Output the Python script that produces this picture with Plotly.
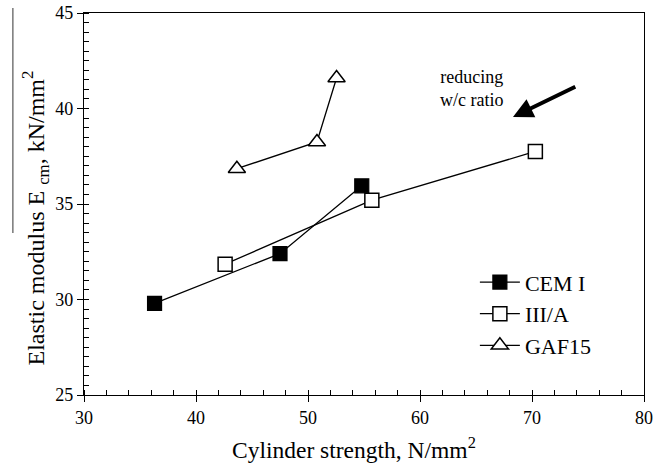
import plotly.graph_objects as go

# Data
cem_x = [36.3, 47.5, 54.8]
cem_y = [29.8, 32.4, 35.95]
iiia_x = [42.6, 55.7, 70.3]
iiia_y = [31.85, 35.2, 37.75]
gaf_x = [43.65, 50.8, 52.55]
gaf_y = [36.85, 38.25, 41.6]

series_names = ["CEM I", "III/A", "GAF15"]
x_ticks = [30, 40, 50, 60, 70, 80]
y_ticks = [25, 30, 35, 40, 45]

FONT = "Liberation Serif, Times New Roman, serif"

fig = go.Figure()
fig.add_trace(go.Scatter(
    x=cem_x, y=cem_y, name=series_names[0], mode="lines+markers",
    line=dict(color="black", width=1.3),
    marker=dict(symbol="square", size=14, color="black", line=dict(color="black", width=1.2))))
fig.add_trace(go.Scatter(
    x=iiia_x, y=iiia_y, name=series_names[1], mode="lines+markers",
    line=dict(color="black", width=1.3),
    marker=dict(symbol="square", size=14, color="white", line=dict(color="black", width=1.5))))
fig.add_trace(go.Scatter(
    x=gaf_x, y=gaf_y, name=series_names[2], mode="lines+markers",
    line=dict(color="black", width=1.3),
    marker=dict(symbol="triangle-up", size=15, color="white", line=dict(color="black", width=1.5))))

fig.update_layout(
    width=664, height=464,
    margin=dict(l=84, r=20, t=13, b=69, autoexpand=False),
    paper_bgcolor="white", plot_bgcolor="white",
    font=dict(family=FONT, color="black", size=18),
    showlegend=True,
    legend=dict(x=0.698, y=0.35, xanchor="left", yanchor="top",
                font=dict(family=FONT, size=22, color="black"),
                bgcolor="rgba(0,0,0,0)", itemwidth=40, tracegroupgap=0),
    xaxis=dict(range=[30, 80], tickvals=x_ticks, automargin=False,
               ticks="outside", ticklen=6, tickwidth=1.2, tickcolor="black",
               minor=dict(dtick=2, ticks="inside", ticklen=5, tickwidth=1, tickcolor="black"),
               showline=True, linecolor="black", linewidth=1.3, mirror=True,
               showgrid=False, zeroline=False, ticklabeloverflow="allow",
               tickfont=dict(family=FONT, size=18)),
    yaxis=dict(range=[25, 45], tickvals=y_ticks, automargin=False,
               ticks="outside", ticklen=6, tickwidth=1.2, tickcolor="black",
               minor=dict(dtick=0.5, ticks="inside", ticklen=5, tickwidth=1, tickcolor="black"),
               showline=True, linecolor="black", linewidth=1.3, mirror=True,
               showgrid=False, zeroline=False, ticklabeloverflow="allow",
               tickfont=dict(family=FONT, size=18)),
)

# axis titles (placed as in the reference)
fig.add_annotation(x=-0.0875, y=0.462, xref="paper", yref="paper",
                   text="Elastic modulus E <sub>cm</sub>, kN/mm<sup>2</sup>",
                   textangle=-90, showarrow=False, xanchor="center", yanchor="middle",
                   font=dict(family=FONT, size=24, color="black"))
fig.add_annotation(x=0.483, y=-0.139, xref="paper", yref="paper",
                   text="Cylinder strength, N/mm<sup>2</sup>",
                   showarrow=False, xanchor="center", yanchor="middle",
                   font=dict(family=FONT, size=23.5, color="black"))

# Arrow and annotation text
fig.add_annotation(x=68.3, y=39.55, ax=74.0, ay=41.18, xref="x", yref="y",
                   axref="x", ayref="y", text="", showarrow=True,
                   arrowhead=2, arrowsize=1.0, arrowwidth=4, arrowcolor="black")
fig.add_annotation(x=64.6, y=41.05, xref="x", yref="y", text="reducing<br>w/c ratio",
                   showarrow=False, font=dict(family=FONT, size=18, color="black"),
                   align="center")

# scanning line artifact at the left edge
fig.add_shape(type="line", xref="paper", yref="paper",
              x0=-0.127, x1=-0.127, y0=1.013, y1=0.424,
              line=dict(color="#555", width=1.2))

# remove the default 8px page margin so the figure fills the window exactly
fig.write_html("out.html", post_script="document.body.style.margin='0';",
               config={"displayModeBar": False})
